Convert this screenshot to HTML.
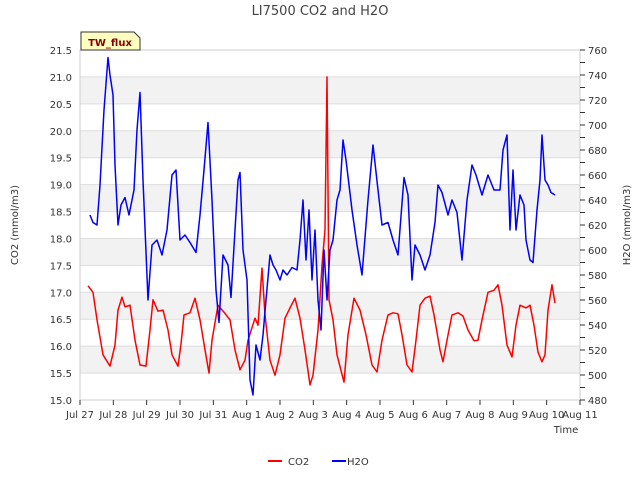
<!DOCTYPE html>
<html><head><meta charset="utf-8"><style>
body{margin:0;background:#fff;}
svg{font-family:"DejaVu Sans","Liberation Sans",sans-serif;}
</style></head><body>
<svg id="chart" width="640" height="480" viewBox="0 0 640 480" xmlns="http://www.w3.org/2000/svg">
<text x="320" y="15" text-anchor="middle" font-size="13" fill="#444">LI7500 CO2 and H2O</text>
<g id="bands"></g>
<g id="grid"></g>
<rect x="80" y="50" width="500" height="350" fill="none" stroke="#ccc"/>
<g id="axes"></g>
<g id="series"></g>
<text transform="translate(18,225) rotate(-90)" text-anchor="middle" font-size="10" fill="#333">CO2 (mmol/m3)</text>
<text transform="translate(630,225) rotate(-90)" text-anchor="middle" font-size="10" fill="#333">H2O (mmol/m3)</text>
<text x="566" y="433" text-anchor="middle" font-size="10" fill="#333">Time</text>
<g>
<path d="M81,50 L81,32 L134,32 L140,38 L140,50 Z" fill="#ffffc0" stroke="#333"/>
<text x="110" y="46" text-anchor="middle" font-size="10" font-weight="bold" fill="#8b0000">TW_flux</text>
</g>
<g>
<line x1="268" y1="461" x2="282" y2="461" stroke="#f00" stroke-width="2"/>
<text x="288" y="465" font-size="10" fill="#333">CO2</text>
<line x1="332" y1="461" x2="346" y2="461" stroke="#00f" stroke-width="2"/>
<text x="347" y="465" font-size="10" fill="#333">H2O</text>
</g>
</svg>
<script>
const xTickLabels=["Jul 27","Jul 28","Jul 29","Jul 30","Jul 31","Aug 1","Aug 2","Aug 3","Aug 4","Aug 5","Aug 6","Aug 7","Aug 8","Aug 9","Aug 10","Aug 11"];
const leftTicks=[15.0,15.5,16.0,16.5,17.0,17.5,18.0,18.5,19.0,19.5,20.0,20.5,21.0,21.5];
const rightTicks=[480,500,520,540,560,580,600,620,640,660,680,700,720,740,760];
const co2Days=[0.24,0.39,0.51,0.69,0.9,1.05,1.14,1.26,1.35,1.5,1.65,1.8,1.98,2.1,2.19,2.34,2.49,2.64,2.76,2.94,3.03,3.12,3.3,3.45,3.6,3.75,3.87,3.96,4.14,4.32,4.5,4.65,4.8,4.95,5.04,5.25,5.34,5.46,5.55,5.7,5.85,6.0,6.15,6.3,6.45,6.6,6.75,6.9,6.99,7.14,7.26,7.35,7.41,7.47,7.59,7.71,7.92,8.04,8.22,8.4,8.58,8.76,8.91,9.06,9.24,9.39,9.54,9.66,9.81,9.96,10.08,10.2,10.35,10.5,10.62,10.8,10.89,11.01,11.16,11.34,11.49,11.64,11.82,11.94,12.06,12.24,12.42,12.54,12.66,12.81,12.96,13.08,13.2,13.38,13.5,13.62,13.74,13.86,13.95,14.04,14.16,14.25];
const co2Values=[17.12,17.0,16.49,15.84,15.63,16.02,16.67,16.91,16.73,16.76,16.11,15.65,15.63,16.3,16.86,16.65,16.67,16.3,15.84,15.63,16.04,16.58,16.62,16.89,16.49,15.93,15.5,16.11,16.76,16.63,16.49,15.93,15.56,15.74,16.11,16.52,16.39,17.45,16.58,15.74,15.46,15.84,16.52,16.71,16.89,16.52,15.93,15.28,15.46,16.3,17.5,18.16,21.0,16.86,16.49,15.84,15.33,16.21,16.89,16.67,16.21,15.65,15.52,16.11,16.58,16.62,16.6,16.21,15.65,15.52,16.11,16.76,16.89,16.93,16.58,15.93,15.71,16.11,16.58,16.62,16.56,16.3,16.1,16.11,16.49,17.0,17.04,17.14,16.76,16.02,15.8,16.39,16.76,16.71,16.76,16.39,15.89,15.71,15.84,16.67,17.14,16.8];
const h2oDays=[0.3,0.39,0.51,0.6,0.72,0.84,0.9,0.99,1.05,1.14,1.23,1.35,1.47,1.62,1.71,1.8,1.89,2.04,2.16,2.31,2.46,2.61,2.76,2.88,3.0,3.15,3.3,3.48,3.6,3.72,3.84,3.96,4.08,4.17,4.29,4.44,4.53,4.65,4.74,4.8,4.89,5.01,5.1,5.19,5.28,5.4,5.49,5.58,5.7,5.79,5.88,6.0,6.09,6.21,6.36,6.51,6.6,6.69,6.78,6.87,6.96,7.05,7.14,7.23,7.32,7.41,7.5,7.59,7.71,7.8,7.89,7.98,8.07,8.16,8.31,8.46,8.64,8.79,8.94,9.06,9.24,9.39,9.54,9.72,9.84,9.96,10.05,10.2,10.35,10.5,10.65,10.74,10.86,11.04,11.16,11.31,11.46,11.61,11.76,11.88,12.06,12.24,12.42,12.6,12.69,12.81,12.9,12.99,13.08,13.2,13.32,13.38,13.5,13.59,13.71,13.8,13.86,13.95,14.04,14.13,14.25];
const h2oValues=[628,622,620,652,712,754,740,724,668,620,636,642,628,648,696,726,656,560,604,608,596,616,660,664,608,612,606,598,628,664,702,640,568,542,596,588,562,616,656,662,600,576,496,484,524,512,532,560,596,588,584,576,584,580,586,584,608,640,592,632,576,616,560,536,600,560,600,608,640,648,688,672,652,632,604,580,640,684,648,620,622,608,596,658,644,576,604,596,584,596,622,652,646,628,640,630,592,640,668,660,644,660,648,648,680,692,616,664,616,644,636,608,592,590,632,656,692,656,652,646,644];

const NS="http://www.w3.org/2000/svg";
const X0=80,X1=580,Y0=400,Y1=50;
const xScale=d=>X0+(d/15)*(X1-X0);
const yLeft=v=>Y0-(v-15)/(21.5-15)*(Y0-Y1);
const yRight=v=>Y0-(v-480)/(760-480)*(Y0-Y1);
function mk(tag,attrs,parent){const e=document.createElementNS(NS,tag);for(const k in attrs)e.setAttribute(k,attrs[k]);parent.appendChild(e);return e;}
const bands=document.getElementById('bands'),grid=document.getElementById('grid'),axes=document.getElementById('axes'),series=document.getElementById('series');
for(let i=0;i<leftTicks.length-1;i++){
  if(i%2===1){const r=mk('rect',{x:X0,y:yLeft(leftTicks[i+1]),width:X1-X0,height:yLeft(leftTicks[i])-yLeft(leftTicks[i+1]),fill:'#f2f2f2'},bands);
  
  }
}
leftTicks.forEach(v=>{
  const y=yLeft(v);
  const l=mk('line',{x1:X0,x2:X1,y1:y,y2:y,stroke:'#ddd'},grid);
  
  
  const t=mk('text',{x:X0-8,y:y+4,'text-anchor':'end','font-size':10,fill:'#333'},axes);
  t.textContent=v.toFixed(1);
  
  
});
for(let v=480;v<=760;v+=10){
  const y=yRight(v);
  const tk=mk('line',{x1:X1,x2:X1+5,y1:y,y2:y,stroke:'#333'},axes);
  
  
}
rightTicks.forEach(v=>{
  const t=mk('text',{x:X1+8,y:yRight(v)+4,'font-size':10,fill:'#333'},axes);
  t.textContent=v;
  
  
});
xTickLabels.forEach((s,i)=>{
  const x=xScale(i);
  const tk=mk('line',{x1:x,x2:x,y1:Y0,y2:Y0+5,stroke:'#333'},axes);
  
  
  const t=mk('text',{x:x,y:Y0+18,'text-anchor':'middle','font-size':10,fill:'#333'},axes);
  t.textContent=s;
  
  
});
const co2Path=mk('path',{d:co2Days.map((d,i)=>(i?'L':'M')+xScale(d).toFixed(1)+','+yLeft(co2Values[i]).toFixed(1)).join(''),fill:'none',stroke:'#f00','stroke-width':1.5,'stroke-linejoin':'round'},series);


const h2oPath=mk('path',{d:h2oDays.map((d,i)=>(i?'L':'M')+xScale(d).toFixed(1)+','+yRight(h2oValues[i]).toFixed(1)).join(''),fill:'none',stroke:'#00f','stroke-width':1.5,'stroke-linejoin':'round'},series);


</script>
</body></html>
